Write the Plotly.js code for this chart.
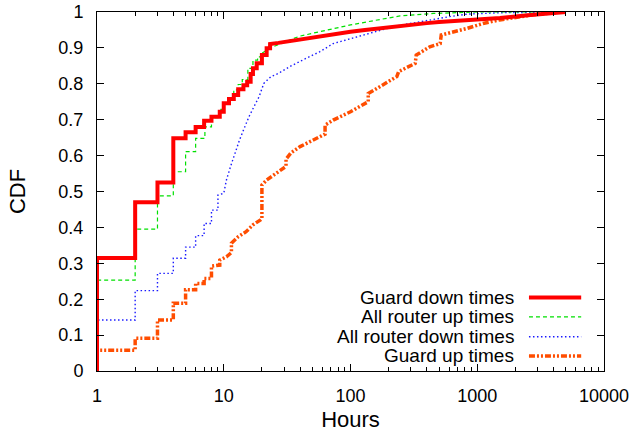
<!DOCTYPE html>
<html>
<head>
<meta charset="utf-8">
<script src="https://cdn.plot.ly/plotly-3.0.1.min.js"></script>
<style>
  body { margin: 0; background: #fff; }
  #chart { width: 636px; height: 432px; }
</style>
</head>
<body>
<div id="chart"></div>
<script>
// CDF data; repeated x values are the vertical steps
const seriesNames = ['Guard down times', 'All router up times', 'All router down times', 'Guard up times'];

const guardDownHours = [1, 1, 2, 2, 3, 3, 4, 4, 5, 5, 6, 6, 7, 7, 8, 8, 9.3, 9.3, 10, 10, 11, 11, 12, 12,
    13, 13, 14.3, 14.3, 15.3, 15.3, 16.3, 16.3, 17, 17, 18.2, 18.2, 20, 20, 21.8, 21.8, 23.2, 23.2,
    27, 32, 40, 50, 57, 70, 85, 100, 130, 170, 246, 400, 500, 1000, 1510, 2500, 5000];
const guardDownCdf = [0, 0.315, 0.315, 0.47, 0.47, 0.525, 0.525, 0.648, 0.648, 0.665, 0.665, 0.680, 0.680, 0.697,
    0.697, 0.708, 0.708, 0.722, 0.722, 0.746, 0.746, 0.758, 0.758, 0.769, 0.769, 0.785, 0.785, 0.796,
    0.796, 0.806, 0.806, 0.827, 0.827, 0.843, 0.843, 0.857, 0.857, 0.880, 0.880, 0.899, 0.899, 0.911,
    0.914, 0.918, 0.924, 0.930, 0.934, 0.938, 0.942, 0.945, 0.950, 0.955, 0.961, 0.969, 0.972, 0.979, 0.983, 0.991, 1.0];

const routerUpHours = [1, 1, 2, 2, 3, 3, 4, 4, 5, 5, 6, 6, 7.1, 7.1, 8, 8, 9.3, 9.3, 10, 10, 11, 11, 12, 12,
    13, 13, 14, 14, 15.5, 15.5, 17, 17, 18.5, 18.5, 20, 20, 23, 27, 32, 40, 57, 70, 100, 170, 246, 450, 610, 1000, 5000];
const routerUpCdf = [0, 0.253, 0.253, 0.395, 0.395, 0.488, 0.488, 0.555, 0.555, 0.611, 0.611, 0.648, 0.648, 0.680,
    0.680, 0.706, 0.706, 0.729, 0.729, 0.745, 0.745, 0.760, 0.760, 0.783, 0.783, 0.798, 0.798, 0.812,
    0.812, 0.843, 0.843, 0.866, 0.866, 0.875, 0.875, 0.885, 0.899, 0.910, 0.920, 0.933, 0.945, 0.951,
    0.964, 0.979, 0.989, 0.996, 0.998, 1.0, 1.0];

const routerDownHours = [1, 1, 2, 2, 3, 3, 4, 4, 5, 5, 6, 6, 7, 7, 8, 8, 9, 9, 10, 10.5, 11.3, 12.3, 13.3, 14.5,
    15.8, 17.3, 19, 20.7, 23.6, 27, 34, 43, 57, 73, 100, 134, 180, 246, 330, 450, 600, 830, 1500, 5000];
const routerDownCdf = [0, 0.142, 0.142, 0.224, 0.224, 0.272, 0.272, 0.314, 0.314, 0.345, 0.345, 0.377, 0.377, 0.411,
    0.411, 0.448, 0.448, 0.490, 0.495, 0.532, 0.569, 0.611, 0.643, 0.676, 0.708, 0.736, 0.764, 0.801,
    0.820, 0.829, 0.850, 0.868, 0.889, 0.912, 0.926, 0.940, 0.951, 0.963, 0.971, 0.980, 0.987, 0.994, 0.998, 1.0];

const guardUpHours = [1, 1, 2, 2, 3, 3, 4, 4, 5, 5, 6, 6, 7, 7, 8, 8, 9.3, 9.3, 10.5, 11.5, 11.5, 13, 15, 17,
    19.5, 20, 20, 21.8, 26, 31, 31, 34, 40, 48, 57, 63, 63, 73, 100, 126, 138, 138, 182, 232, 240,
    324, 330, 422, 510, 520, 826, 1110, 1500, 2750, 4500];
const guardUpCdf = [0, 0.058, 0.058, 0.091, 0.091, 0.142, 0.142, 0.189, 0.189, 0.226, 0.226, 0.244, 0.244, 0.258,
    0.258, 0.292, 0.295, 0.309, 0.318, 0.330, 0.356, 0.374, 0.388, 0.407, 0.421, 0.425, 0.518, 0.532,
    0.551, 0.570, 0.590, 0.608, 0.625, 0.639, 0.653, 0.660, 0.685, 0.699, 0.722, 0.741, 0.750, 0.773,
    0.797, 0.820, 0.834, 0.857, 0.880, 0.903, 0.912, 0.936, 0.954, 0.968, 0.978, 0.992, 1.0];

const xTicks = [1, 10, 100, 1000, 10000];
const yTicks = [0, 0.1, 0.2, 0.3, 0.4, 0.5, 0.6, 0.7, 0.8, 0.9, 1];

const styles = [
    { color: '#ff0000', width: 4, dash: 'solid' },
    { color: '#00e000', width: 1.2, dash: '4px,3px' },
    { color: '#1a1aff', width: 1.4, dash: '1.5px,2.5px' },
    { color: '#ff4d00', width: 3.5, dash: '6px,2px,2px,2px,2px,2px' }
];

const xs = [guardDownHours, routerUpHours, routerDownHours, guardUpHours];
const ys = [guardDownCdf, routerUpCdf, routerDownCdf, guardUpCdf];

// draw back to front like gnuplot: last series first
const data = [3, 2, 1, 0].map(i => ({
    x: xs[i],
    y: ys[i],
    mode: 'lines',
    type: 'scatter',
    name: seriesNames[i],
    line: { color: styles[i].color, width: styles[i].width, dash: styles[i].dash },
    showlegend: false
}));

// minor ticks 2..9 in each decade
const minorTicks = [];
for (let d = 1; d < 10000; d *= 10) {
    for (let k = 2; k < 10; k++) minorTicks.push(k * d);
}

// gnuplot style key: text right-aligned, sample to the right
const keyRows = [0.205, 0.151, 0.0955, 0.0418];
const annotations = seriesNames.map((name, i) => ({
    xref: 'paper', yref: 'paper',
    x: 0.826, y: keyRows[i],
    xanchor: 'right', yanchor: 'middle',
    text: name, showarrow: false,
    font: { family: 'Liberation Sans, Arial, sans-serif', size: 19, color: '#000' }
}));
const shapes = seriesNames.map((name, i) => ({
    type: 'line', xref: 'paper', yref: 'paper',
    x0: 0.852, x1: 0.955, y0: keyRows[i], y1: keyRows[i],
    line: { color: styles[i].color, width: styles[i].width, dash: styles[i].dash }
}));

const layout = {
    width: 636,
    height: 432,
    margin: { l: 97, r: 32, t: 12, b: 61 },
    paper_bgcolor: '#fff',
    plot_bgcolor: '#fff',
    font: { family: 'Liberation Sans, Arial, sans-serif', size: 18, color: '#000' },
    showlegend: false,
    xaxis: {
        type: 'log',
        range: [0, 4],
        tickvals: xTicks,
        ticktext: xTicks.map(String),
        ticks: 'inside',
        ticklen: 7,
        tickcolor: '#000',
        showline: true,
        linecolor: '#000',
        linewidth: 1,
        mirror: 'allticks',
        showgrid: false,
        zeroline: false,
        ticklabelstandoff: 8,
        minor: { tickvals: minorTicks, ticks: 'inside', ticklen: 4, tickcolor: '#000', showgrid: false },
        title: { text: 'Hours', standoff: 12 }
    },
    yaxis: {
        range: [0, 1],
        tickvals: yTicks,
        ticktext: yTicks.map(String),
        ticks: 'inside',
        ticklen: 7,
        tickcolor: '#000',
        showline: true,
        linecolor: '#000',
        linewidth: 1,
        mirror: 'allticks',
        showgrid: false,
        zeroline: false,
        ticklabelstandoff: 9,
        title: { text: 'CDF', standoff: 26 }
    },
    annotations: annotations,
    shapes: shapes
};

Plotly.newPlot('chart', data, layout, { displayModeBar: false, staticPlot: true });
</script>
</body>
</html>
